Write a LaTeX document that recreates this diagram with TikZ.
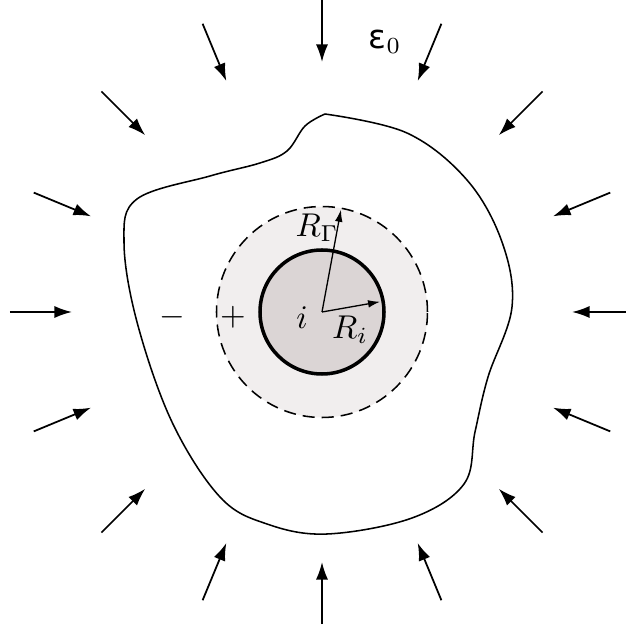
\documentclass[tikz,border=0pt]{standalone}
\usepackage{fontspec}
\newfontfamily\grk{DejaVu Sans}
\usetikzlibrary{arrows.meta}
\definecolor{shellgray}{RGB}{241,238,238}
\definecolor{coregray}{RGB}{219,213,213}
\tikzset{>={Latex[length=8pt,width=5.5pt]}}

\begin{document}
\begin{tikzpicture}[scale=1.6,every node/.style={scale=1.5}]
  \def\Ri{0.62} % core radius
  \def\Rg{1.055} % radius of dashed circle
  \useasboundingbox (-3.22,-3.18) rectangle (3.03,3.12);
  \coordinate (c) at (0,0);
  \fill[shellgray] (c) circle (\Rg);
  \draw[dash pattern=on 5.5pt off 3.2pt,line width=0.7pt] (c) circle (\Rg);
  \draw[fill=coregray,line width=1.6pt] (c) circle (\Ri);
  \draw[line width=0.7pt] plot[smooth,tension=0.6] coordinates { % outer boundary
    (0.03,1.98) (0.85,1.79) (1.45,1.32) (1.80,0.70) (1.90,0.05) (1.66,-0.65)
    (1.53,-1.20) (1.42,-1.72) (0.90,-2.06) (0.05,-2.22) (-0.55,-2.12) (-1.02,-1.85)
    (-1.50,-1.10) (-1.85,-0.10) (-1.98,0.70) (-1.85,1.13) (-1.12,1.36) (-0.62,1.49)
    (-0.35,1.61) (-0.17,1.86) (0.03,1.98)};
  \foreach \a in {0,22.5,...,337.5}{ % incoming field
    \draw[->,line width=0.8pt] (\a:3.12) -- (\a:2.5);
  }
  \coordinate (g) at (79.5:1.04);
  \coordinate (ri) at (10:0.59);
  \draw[-{Latex[length=5.5pt,width=3.5pt]},line width=0.6pt] (c) -- (g);
  \draw[-{Latex[length=5.5pt,width=3.5pt]},line width=0.6pt] (c) -- (ri);
  \node (RG) at (-0.05,0.84) {$R_\Gamma$};
  \node (Rlab) at (0.28,-0.18) {$R_i$};
  \node (ilab) at (-0.20,-0.06) {$i$};
  \node (minus) at (-1.50,-0.05) {$-$};
  \node (plus) at (-0.89,-0.05) {$+$};
  \node (eps) at (0.63,2.70) {{\grk ε}$_0$};
\end{tikzpicture}
\end{document}
